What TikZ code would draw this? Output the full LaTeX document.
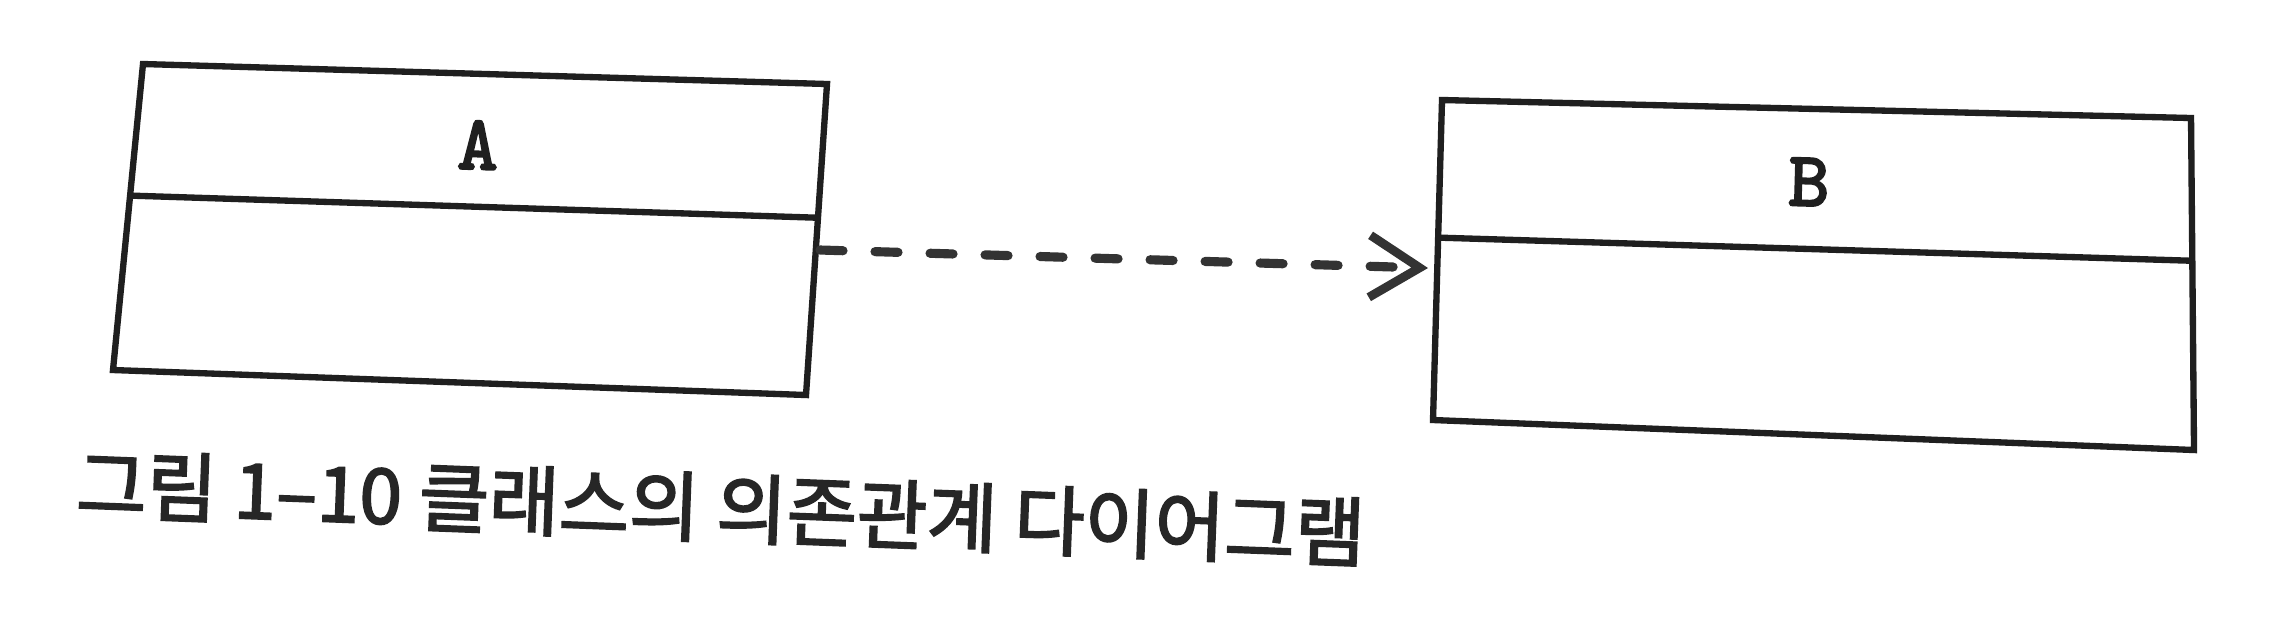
\documentclass[tikz,border=0pt]{standalone}
\usepackage{fontspec}
\newfontfamily\krfont{Noto Sans CJK KR}[FakeBold=2.5]
\newfontfamily\ttbold{lmmono10-regular.otf}[FakeBold=3]
\usetikzlibrary{arrows.meta,calc}
\begin{document}
\begin{tikzpicture}[x=0.01cm,y=-0.01cm,
  boxline/.style={line width=1.8pt, line join=miter, draw=black!88},
  deparrow/.style={line width=2.6pt, draw=black!80, line cap=round, dash pattern=on 0.23cm off 0.32cm, dash phase=0.0cm,
    -{Straight Barb[length=0.5cm, width=0.62cm, line width=2.5pt]}},
  classname/.style={font=\ttbold\fontsize{22}{26}\selectfont, text=black!88, inner sep=0pt, rotate=-1.6},
  captiontext/.style={font=\krfont\fontsize{21.7}{25}\selectfont, text=black!85, inner sep=0pt, rotate=-2.2}]
\useasboundingbox[fill=white] (0,0) rectangle (2286,632);
% box A corners
\coordinate (ATL) at (143,64);
\coordinate (ATR) at (827,84);
\coordinate (ABR) at (806,395);
\coordinate (ABL) at (113,370);
\coordinate (ADL) at ($(ATL)!0.43!(ABL)$);
\coordinate (ADR) at ($(ATR)!0.43!(ABR)$);
% box B corners
\coordinate (BTL) at (1442,100);
\coordinate (BTR) at (2191,118);
\coordinate (BBR) at (2194,450);
\coordinate (BBL) at (1433,420);
\coordinate (BDL) at ($(BTL)!0.43!(BBL)$);
\coordinate (BDR) at ($(BTR)!0.43!(BBR)$);
\draw[boxline] (ATL) -- (ATR) -- (ABR) -- (ABL) -- cycle;
\draw[boxline] (ADL) -- (ADR);
\draw[boxline] (BTL) -- (BTR) -- (BBR) -- (BBL) -- cycle;
\draw[boxline] (BDL) -- (BDR);
\node[classname] (A) at (478,145) {A};
\node[classname] (B) at (1809,182) {B};
% dependency
\coordinate (depstart) at (820,250);
\coordinate (depend) at (1428,268);
\draw[deparrow] (depstart) -- (depend);
\node[captiontext] (cap) at (721,508) {그림 1–10 클래스의 의존관계 다이어그램};
\end{tikzpicture}
\end{document}
